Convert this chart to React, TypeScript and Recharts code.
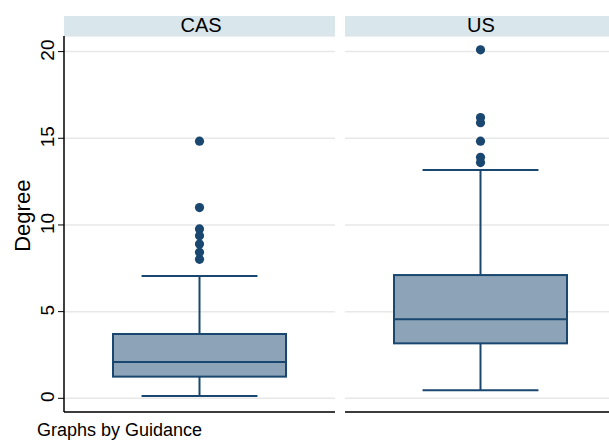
import React from 'react';
import { ComposedChart, Bar, Scatter, XAxis, YAxis, CartesianGrid } from 'recharts';

const groups = ['CAS', 'US'];
const q1 = [1.25, 3.17];
const median = [2.09, 4.56];
const q3 = [3.71, 7.11];
const whiskerLow = [0.13, 0.46];
const whiskerHigh = [7.06, 13.17];
const casOutliers = [14.83, 11.0, 9.77, 9.38, 8.9, 8.42, 8.02];
const usOutliers = [20.1, 16.2, 15.9, 14.83, 13.9, 13.6];
const yTicks = [0, 5, 10, 15, 20];
const yDomain = [-0.79, 20.9];
const yTitle = 'Degree';
const note = 'Graphs by Guidance';

const NAVY = '#1a476f';
const FILL = '#8da4b8';
const STRIP = '#d9e6eb';
const GRID = '#e8e8e8';
const FONT = '"Liberation Sans", Arial, sans-serif';

const outliersByGroup = [casOutliers, usOutliers];

function boxRow(i: number) {
  return {
    g: groups[i],
    box: [q1[i], q3[i]],
    q1: q1[i],
    q3: q3[i],
    med: median[i],
    lo: whiskerLow[i],
    hi: whiskerHigh[i],
  };
}

function BoxShape(props: any) {
  const { x, y, width, height, payload } = props;
  const top = Math.min(y, y + height);
  const h = Math.abs(height);
  const k = h / (payload.q3 - payload.q1);
  const yOf = (v: number) => top + (payload.q3 - v) * k;
  const cx = x + width / 2;
  const capHalf = width * 0.335;
  return (
    <g>
      <line x1={cx} x2={cx} y1={yOf(payload.hi)} y2={yOf(payload.q3)} stroke={NAVY} strokeWidth={2} />
      <line x1={cx} x2={cx} y1={yOf(payload.q1)} y2={yOf(payload.lo)} stroke={NAVY} strokeWidth={2} />
      <line x1={cx - capHalf} x2={cx + capHalf} y1={yOf(payload.hi)} y2={yOf(payload.hi)} stroke={NAVY} strokeWidth={2} />
      <line x1={cx - capHalf} x2={cx + capHalf} y1={yOf(payload.lo)} y2={yOf(payload.lo)} stroke={NAVY} strokeWidth={2} />
      <rect x={x} y={top} width={width} height={h} fill={FILL} stroke={NAVY} strokeWidth={2} />
      <line x1={x} x2={x + width} y1={yOf(payload.med)} y2={yOf(payload.med)} stroke={NAVY} strokeWidth={2} />
    </g>
  );
}

function Dot(props: any) {
  const { cx, cy } = props;
  return <circle cx={cx} cy={cy} r={4.6} fill={NAVY} />;
}

function YTick(props: any) {
  const { x, y, payload } = props;
  const bx = x - 2;
  return (
    <text
      x={bx}
      y={y - 1.5}
      transform={`rotate(-90, ${bx}, ${y - 1.5})`}
      textAnchor="middle"
      fontFamily={FONT}
      fontSize={19}
      fill="#000"
    >
      {payload.value}
    </text>
  );
}

function Panel({ i, showY }: { i: number; showY: boolean }) {
  const data = [boxRow(i)];
  const pts = outliersByGroup[i].map((v) => ({ g: groups[i], v }));
  return (
    <ComposedChart
      width={showY ? 335 : 271}
      height={441}
      data={data}
      margin={{ top: 36, right: 0, bottom: 0, left: 0 }}
    >
      <CartesianGrid horizontal vertical={false} stroke={GRID} strokeWidth={1.5} />
      <XAxis
        dataKey="g"
        type="category"
        allowDuplicatedCategory={false}
        height={29}
        tick={false}
        tickLine={false}
        axisLine={{ stroke: '#000', strokeWidth: 1.5 }}
      />
      <YAxis
        type="number"
        domain={yDomain}
        ticks={yTicks}
        allowDataOverflow
        width={showY ? 64 : 0}
        hide={!showY}
        tickSize={6}
        tick={<YTick />}
        tickLine={{ stroke: '#000', strokeWidth: 1 }}
        axisLine={{ stroke: '#000', strokeWidth: 1.5 }}
      />
      <Bar dataKey="box" barSize={173} shape={<BoxShape />} isAnimationActive={false} />
      <Scatter data={pts} dataKey="v" shape={<Dot />} isAnimationActive={false} />
    </ComposedChart>
  );
}

export default function App() {
  return (
    <div
      style={{
        position: 'absolute',
        left: 0,
        top: 0,
        width: 609,
        height: 441,
        overflow: 'hidden',
        background: '#fff',
      }}
    >
      <div style={{ position: 'absolute', left: 0, top: 0 }}>
        <Panel i={0} showY />
      </div>
      <div style={{ position: 'absolute', left: 345, top: 0 }}>
        <Panel i={1} showY={false} />
      </div>
      <svg
        width={609}
        height={441}
        style={{ position: 'absolute', left: 0, top: 0, pointerEvents: 'none' }}
      >
        <rect x={64} y={16} width={271} height={20} fill={STRIP} />
        <rect x={345} y={16} width={271} height={20} fill={STRIP} />
        <text x={201} y={32.3} textAnchor="middle" fontFamily={FONT} fontSize={20} fill="#000">
          {groups[0]}
        </text>
        <text x={481} y={32.3} textAnchor="middle" fontFamily={FONT} fontSize={20} fill="#000">
          {groups[1]}
        </text>
        <text
          x={30}
          y={215.7}
          transform="rotate(-90, 30, 215.7)"
          textAnchor="middle"
          fontFamily={FONT}
          fontSize={22}
          fill="#000"
        >
          {yTitle}
        </text>
        <text x={37} y={436} fontFamily={FONT} fontSize={18} fill="#000">
          {note}
        </text>
      </svg>
    </div>
  );
}
